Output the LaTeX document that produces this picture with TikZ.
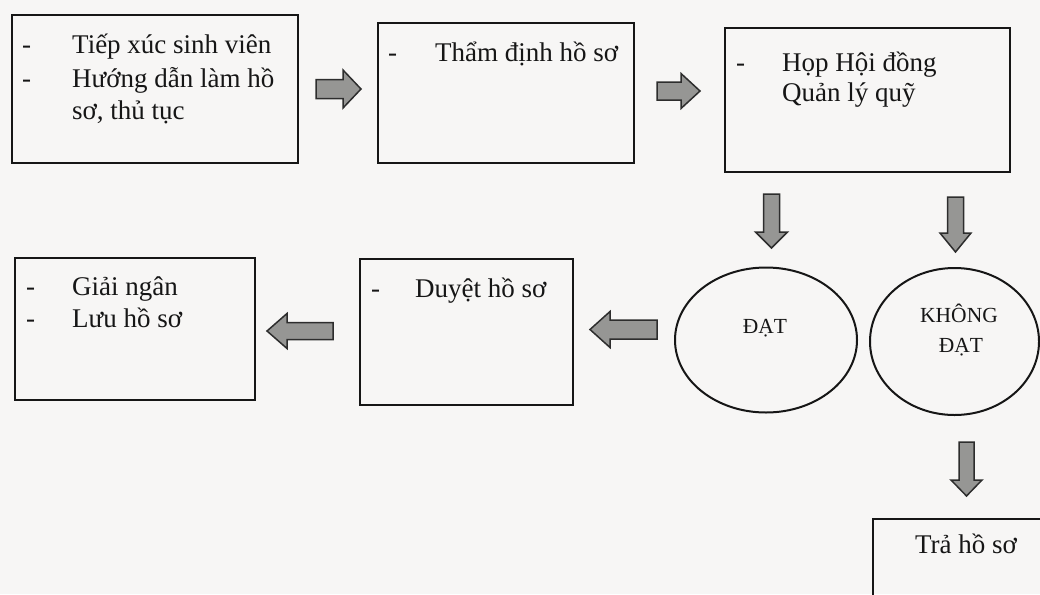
\documentclass[tikz,border=0pt]{standalone}
\usepackage{fontspec}
\setmainfont{Liberation Serif}
\usetikzlibrary{shapes.geometric}
\definecolor{paper}{RGB}{247,246,245}
\definecolor{ink}{RGB}{22,22,22}
\definecolor{arrowfill}{RGB}{150,150,148}
\definecolor{arrowline}{RGB}{45,45,45}
\tikzset{
  box/.style={draw=ink, line width=1.9pt, rectangle, inner sep=0pt},
  oval/.style={draw=ink, line width=2pt, ellipse, inner sep=0pt},
  txt/.style={text=ink, inner sep=0pt, anchor=base west, font=\fontsize{27}{32}\selectfont},
  ctxt/.style={text=ink, inner sep=0pt, anchor=base, font=\fontsize{21.5}{26}\selectfont},
  barrow/.style={draw=arrowline, fill=arrowfill, line width=1.5pt, line join=miter},
  % block arrow: length, shaft half-width, head half-width, head length
  pics/barr/.style n args={4}{code={
    \filldraw[barrow] (0,-#2) -- ({#1-#4},-#2) -- ({#1-#4},-#3) -- (#1,0)
      -- ({#1-#4},#3) -- ({#1-#4},#2) -- (0,#2) -- cycle;
  }}
}
\begin{document}
\begin{tikzpicture}[x=1pt,y=-1pt]
\fill[paper] (0,0) rectangle (1040,594);
\useasboundingbox (0,0) rectangle (1040,594);
\clip (0,0) rectangle (1040,594);

% first row
\node[box, minimum width=286, minimum height=148] (tiepxuc) at (155,89) {};
\node[txt] (t1a) at (22,53) {-};
\node[txt] (t1b) at (72,53) {Tiếp xúc sinh viên};
\node[txt] (t1c) at (22,87) {-};
\node[txt] (t1d) at (72,87) {Hướng dẫn làm hồ};
\node[txt] (t1e) at (72,119) {sơ, thủ tục};

\node[box, minimum width=256, minimum height=140] (thamdinh) at (506,93) {};
\node[txt] (t2a) at (388,62) {-};
\node[txt] (t2b) at (435,62) {Thẩm định hồ sơ};

\node[box, minimum width=285, minimum height=144] (hoidong) at (867.5,100) {};
\node[txt] (t3a) at (736,71) {-};
\node[txt] (t3b) at (782,71) {Họp Hội đồng};
\node[txt] (t3c) at (782,101) {Quản lý quỹ};

% decision ovals
\node[oval, minimum width=182, minimum height=145] (dat) at (766,340) {};
\node[ctxt] (tdat) at (765,333) {ĐẠT};
\node[oval, minimum width=169, minimum height=147] (khongdat) at (954.5,341.5) {};
\node[ctxt] (tk1) at (959,322) {KHÔNG};
\node[ctxt] (tk2) at (961,352) {ĐẠT};

% second row
\node[box, minimum width=213, minimum height=146] (duyet) at (466.5,332) {};
\node[txt] (t5a) at (371,297) {-};
\node[txt] (t5b) at (415,297) {Duyệt hồ sơ};

\node[box, minimum width=240, minimum height=142] (giaingan) at (135,329) {};
\node[txt] (t4a) at (26,295) {-};
\node[txt] (t4b) at (72,295) {Giải ngân};
\node[txt] (t4c) at (26,327) {-};
\node[txt] (t4d) at (72,327) {Lưu hồ sơ};

% returned application
\node[box, minimum width=200, minimum height=120, anchor=north west] (trahoso) at (872,518) {};
\node[txt, anchor=base] (t6) at (966,553) {Trả hồ sơ};

% block arrows
\pic at (316,89) {barr={45}{9.5}{19}{18}};
\pic at (657,91) {barr={43}{9}{17.5}{19}};
\pic[rotate=-90] at (771.5,194) {barr={54}{8}{16}{16}};
\pic[rotate=-90] at (955.5,197) {barr={55}{8}{15.5}{19}};
\pic[rotate=180] at (657,329.5) {barr={67}{9.5}{18}{20}};
\pic[rotate=180] at (333,331) {barr={66}{8.5}{17.5}{20}};
\pic[rotate=-90] at (966.5,442) {barr={54}{7.5}{15.5}{16}};
\end{tikzpicture}
\end{document}
